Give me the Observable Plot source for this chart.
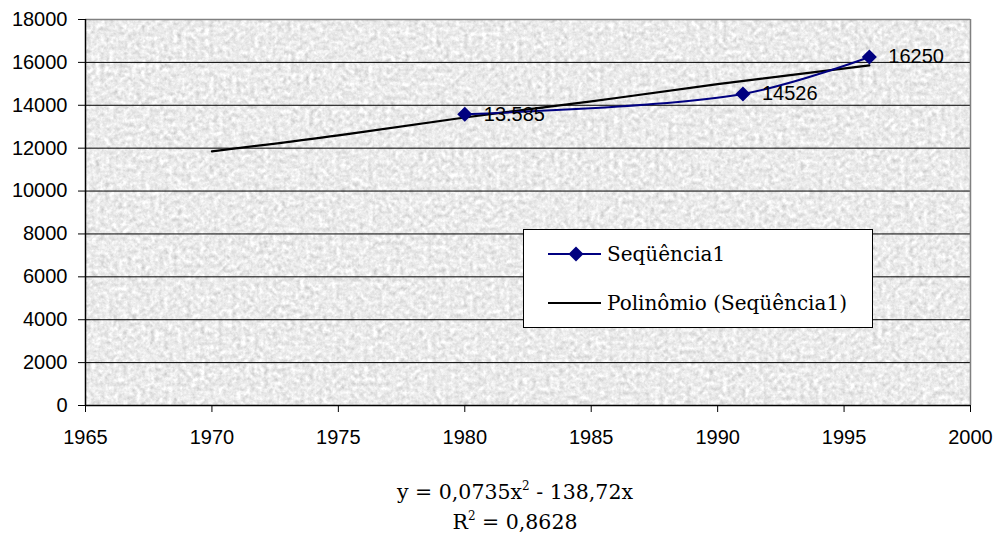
<!DOCTYPE html>
<html>
<head>
<meta charset="utf-8">
<script src="https://cdn.jsdelivr.net/npm/d3@7"></script>
<script src="https://cdn.jsdelivr.net/npm/@observablehq/plot@0.6"></script>
<style>
  html, body { margin: 0; padding: 0; background: #ffffff; }
  #wrap { position: relative; width: 1002px; height: 543px; overflow: hidden; }
  #legend { position: absolute; left: 523px; top: 229px; }
  #caption { position: absolute; left: 0; top: 450px; width: 1002px; padding-left: 28px; box-sizing: border-box;
             text-align: center; font-family: "DejaVu Serif", serif; font-size: 20.5px; line-height: 30px; padding-top: 27px; color: #000; }
  #caption sup { font-size: 12px; vertical-align: 9px; line-height: 0; }
</style>
</head>
<body>
<div id="wrap"></div>
<script>
// ---- data ----
const years  = [1980, 1991, 1996];
const values = [13585, 14526, 16250];
const valueLabels = ["13.585", "14526", "16250"];

const trendYears  = [1970, 1975, 1980, 1985, 1990, 1996];
const trendValues = [11850, 12600, 13430, 14180, 14990, 15860];

const xTicks = [1965, 1970, 1975, 1980, 1985, 1990, 1995, 2000];
const yTicks = [0, 2000, 4000, 6000, 8000, 10000, 12000, 14000, 16000, 18000];

const seriesNames = ["Seqüência1", "Polinômio (Seqüência1)"];
const equationLines = ["y = 0,0735x|2| - 138,72x", "R|2| = 0,8628"];

// ---- tables ----
const series = years.map((y, i) => ({year: y, value: values[i], label: valueLabels[i]}));
const trend = trendYears.map((y, i) => ({year: y, value: trendValues[i]}));

const navy = "#000080";

const chart = Plot.plot({
  width: 1002,
  height: 450,
  marginLeft: 85,
  marginRight: 32,
  marginTop: 19,
  marginBottom: 45,
  style: {fontFamily: "'Liberation Sans', Arial, sans-serif", fontSize: "20px", background: "transparent", color: "#000"},
  x: {domain: [1965, 2000]},
  y: {domain: [0, 18000]},
  marks: [
    Plot.frame({fill: "#e6e6e6", stroke: null}),
    Plot.ruleY(yTicks.filter(d => d > 0 && d < 18000), {stroke: "#000", strokeWidth: 1}),
    Plot.ruleY([18000], {stroke: "#808080", strokeWidth: 1.5}),
    Plot.ruleX([2000], {stroke: "#808080", strokeWidth: 1.5}),
    Plot.ruleX([1965], {stroke: "#000", strokeWidth: 1.5}),
    Plot.ruleY([0], {stroke: "#000", strokeWidth: 1.5}),
    Plot.axisY({ticks: yTicks, tickSize: 7, tickPadding: 11, tickFormat: d => String(d), label: null, fontSize: 20}),
    Plot.axisX({ticks: xTicks, tickSize: 7, tickPadding: 17, tickFormat: d => String(d), label: null, fontSize: 20}),
    Plot.line(trend, {x: "year", y: "value", curve: "natural", stroke: "#000", strokeWidth: 2.2}),
    Plot.line(series, {x: "year", y: "value", curve: "catmull-rom", stroke: navy, strokeWidth: 2}),
    Plot.dot(series, {x: "year", y: "value", symbol: "diamond2", r: 6.8, fill: navy, stroke: "none"}),
    Plot.text(series, {x: "year", y: "value", text: "label", dx: 19, textAnchor: "start", fontSize: 20, fill: "#000"})
  ]
});

// granite-like texture for the plot area
const ns = "http://www.w3.org/2000/svg";
const defs = document.createElementNS(ns, "defs");
defs.innerHTML = `
<filter id="granite" x="0" y="0" width="1" height="1" color-interpolation-filters="sRGB">
  <feTurbulence type="fractalNoise" baseFrequency="0.22" numOctaves="3" seed="11" result="n"/>
  <feColorMatrix in="n" type="matrix" values="0.33 0.33 0.33 0 0  0.33 0.33 0.33 0 0  0.33 0.33 0.33 0 0  0 0 0 0 1" result="g"/>
  <feComponentTransfer in="g">
    <feFuncR type="linear" slope="0.5" intercept="0.675"/>
    <feFuncG type="linear" slope="0.5" intercept="0.675"/>
    <feFuncB type="linear" slope="0.5" intercept="0.675"/>
  </feComponentTransfer>
</filter>`;
chart.insertBefore(defs, chart.firstChild);
const frame = chart.querySelector('[aria-label="frame"]');
if (frame) frame.setAttribute("filter", "url(#granite)");

const wrap = document.getElementById("wrap");
wrap.appendChild(chart);

// legend
const leg = document.createElementNS(ns, "svg");
leg.setAttribute("id", "legend");
leg.setAttribute("width", 351);
leg.setAttribute("height", 100);
leg.innerHTML = `
<rect x="0.5" y="0.5" width="349" height="98" fill="#fff" stroke="#000" stroke-width="1"/>
<line x1="25" x2="78" y1="25" y2="25" stroke="${navy}" stroke-width="2"/>
<path d="M53,17.5 L60.5,25 L53,32.5 L45.5,25 Z" fill="${navy}"/>
<line x1="25" x2="78" y1="74" y2="74" stroke="#000" stroke-width="2.2"/>`;
seriesNames.forEach((name, i) => {
  const t = document.createElementNS(ns, "text");
  t.setAttribute("x", 84);
  t.setAttribute("y", i === 0 ? 25 : 74);
  t.setAttribute("dy", "0.36em");
  t.setAttribute("font-family", "'DejaVu Serif', serif");
  t.setAttribute("font-size", "20");
  t.textContent = name;
  leg.appendChild(t);
});
wrap.appendChild(leg);

// equation caption
const cap = document.createElement("div");
cap.id = "caption";
equationLines.forEach(line => {
  const d = document.createElement("div");
  line.split("|").forEach((part, j) => {
    if (j % 2 === 1) { const s = document.createElement("sup"); s.textContent = part; d.appendChild(s); }
    else d.appendChild(document.createTextNode(part));
  });
  cap.appendChild(d);
});
wrap.appendChild(cap);
</script>
</body>
</html>
